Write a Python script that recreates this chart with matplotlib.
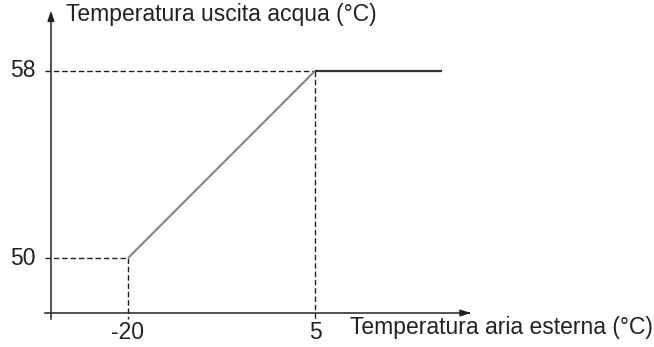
import matplotlib.pyplot as plt

# curva climatica: temperatura aria esterna -> temperatura uscita acqua
t_aria = [-20, 5, 22]
t_acqua = [50, 58, 58]

x_ticks = [-20, 5]
x_tick_labels = ["-20", "5"]
y_ticks = [50, 58]
y_tick_labels = ["50", "58"]

x_label = "Temperatura aria esterna (°C)"
y_label = "Temperatura uscita acqua (°C)"

# posizione degli assi disegnati a mano
x0, y0 = -30.3, 47.65
x_end, y_end = 26.2, 60.7
tick_ext_x, tick_ext_y = 0.8, 0.26

plt.rcParams['font.family'] = ['Liberation Sans', 'DejaVu Sans']

fig = plt.figure(figsize=(6.54, 3.47), dpi=100)
ax = fig.add_axes([0, 0, 1, 1])
ax.set_xlim(-37.11, 50.32)
ax.set_ylim(46.197, 61.034)
ax.axis("off")

# assi con frecce
ax.plot([x0 - tick_ext_x, x_end - 0.6], [y0, y0], color="#222222", lw=1.1)
ax.plot([x0, x0], [y0 - tick_ext_y, y_end - 0.3], color="#222222", lw=1.1)
ax.annotate("", xy=(x_end, y0), xytext=(x_end - 1, y0),
            arrowprops=dict(arrowstyle="-|>,head_length=0.6,head_width=0.2", color="#222222", lw=1.1))
ax.annotate("", xy=(x0, y_end), xytext=(x0, y_end - 0.5),
            arrowprops=dict(arrowstyle="-|>,head_length=0.6,head_width=0.2", color="#222222", lw=1.1))

# linee tratteggiate di riferimento
for xv, yv in zip(x_ticks, y_ticks):
    ax.plot([x0 - tick_ext_x, xv], [yv, yv], color="#222222", lw=1.0, dashes=(4, 2))
    ax.plot([xv, xv], [yv, y0 - tick_ext_y], color="#222222", lw=1.0, dashes=(4, 2))

# curva
ax.plot(t_aria[:2], t_acqua[:2], color="#8a8a8a", lw=1.6, solid_capstyle="butt")
ax.plot(t_aria[1:], t_acqua[1:], color="#333333", lw=1.6, solid_capstyle="butt")

# etichette
for xv, lab in zip(x_ticks, x_tick_labels):
    ax.text(xv, y0 - 0.85, lab, ha="center", va="center", fontsize=16.5, color="#222222")
for yv, lab in zip(y_ticks, y_tick_labels):
    ax.text(x0 - 2.1, yv, lab, ha="right", va="center", fontsize=16.5, color="#222222")

ax.text(x0 + 2.0, y_end - 0.3, y_label, ha="left", va="center", fontsize=16.5, color="#222222")
ax.text(9.7, y0 - 0.62, x_label, ha="left", va="center", fontsize=16.5, color="#222222")

fig.savefig("out.png", dpi=100)
